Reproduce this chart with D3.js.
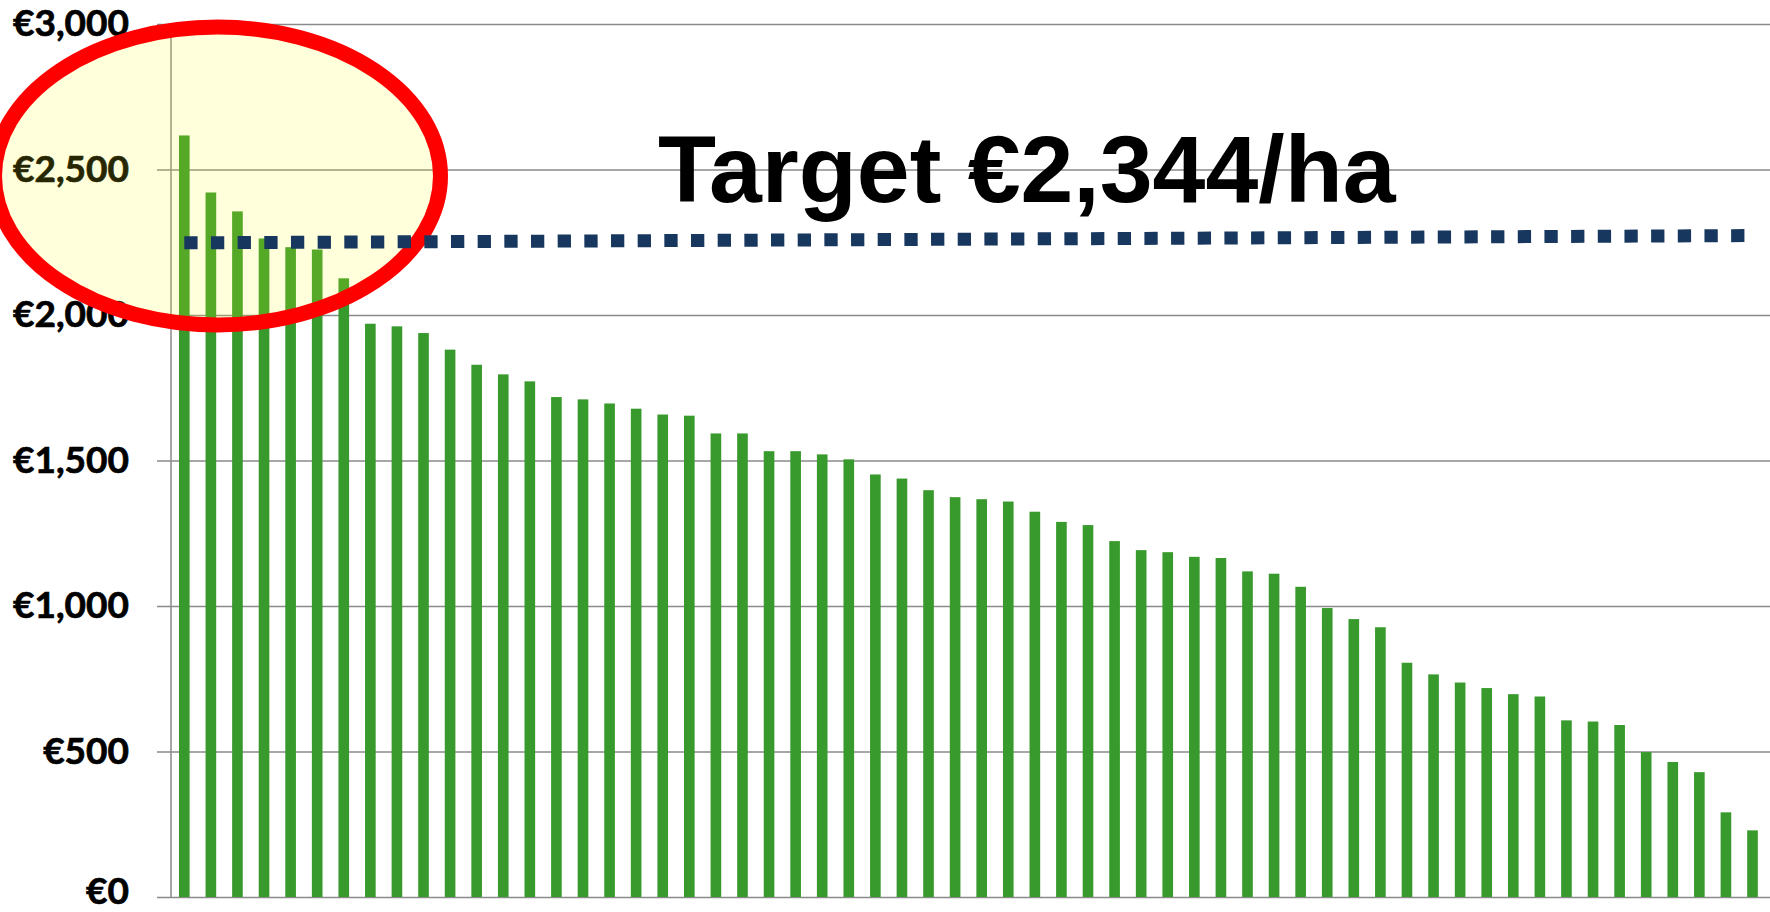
<!DOCTYPE html>
<html>
<head>
<meta charset="utf-8">
<script src="https://cdn.jsdelivr.net/npm/d3@7"></script>
<style>
  html, body { margin: 0; padding: 0; background: #fff; }
  svg { display: block; }
</style>
</head>
<body>
<div id="app"></div>
<script>
const width = 1770
const height = 912

// income per ha for each farm, sorted high to low
const farmValues = [
  2617, 2421, 2356, 2263, 2233, 2225, 2126, 1970, 1961, 1938,
  1881, 1829, 1796, 1772, 1718, 1710, 1696, 1678, 1658, 1654,
  1593, 1593, 1532, 1532, 1521, 1504, 1452, 1438, 1398, 1374,
  1367, 1359, 1324, 1289, 1278, 1223, 1192, 1185, 1169, 1165,
  1119, 1111, 1066, 993, 955, 927, 805, 765, 737, 718,
  697, 689, 607, 603, 591, 498, 464, 429, 291, 229
]
const farms = farmValues.map((v, i) => i + 1)

// dotted target line: first and last farm
const targetFarms = [1, 60]
const targetValues = [2248, 2273]

const yTicks = [0, 500, 1000, 1500, 2000, 2500, 3000]
const titleText = 'Target €2,344/ha'

const axisX = 171
const plotTop = 24
const plotBottom = 897

const x = d3.scaleBand()
  .domain(farms)
  .range([axisX, axisX + 60 * 26.58])
  .paddingInner(0.6)
  .paddingOuter(0.3)

const y = d3.scaleLinear()
  .domain([0, 3000])
  .range([plotBottom, plotTop])

const svg = d3.select('#app').append('svg')
  .attr('width', width)
  .attr('height', height)

// gridlines + tick labels
const yAxis = d3.axisLeft(y)
  .tickValues(yTicks)
  .tickSize(14)
  .tickPadding(28)
  .tickFormat(d => '€' + d3.format(',')(d))

svg.append('g')
  .attr('transform', `translate(${axisX},0)`)
  .call(yAxis)
  .call(g => g.select('.domain').remove())
  .call(g => g.selectAll('.tick line')
    .attr('x1', width - axisX)
    .attr('x2', -14)
    .attr('stroke', '#8a8a8a')
    .attr('stroke-width', 1.5))
  .call(g => g.selectAll('.tick text')
    .attr('fill', '#000')
    .attr('stroke', '#000')
    .attr('stroke-width', 0.7)
    .attr('font-family', 'Lato, "Open Sans", sans-serif')
    .attr('font-weight', 'bold')
    .attr('font-size', 37)
    // keep the bottom label inside the picture
    .attr('dy', d => d === 0 ? '0.18em' : '0.32em'))

svg.append('line')
  .attr('x1', axisX).attr('x2', axisX)
  .attr('y1', y(3000)).attr('y2', y(0))
  .attr('stroke', '#8a8a8a')
  .attr('stroke-width', 1.5)

// bars
svg.append('g')
  .selectAll('rect')
  .data(farmValues)
  .join('rect')
  .attr('x', (d, i) => x(farms[i]))
  .attr('y', d => y(d))
  .attr('width', x.bandwidth())
  .attr('height', d => y(0) - y(d))
  .attr('fill', '#389a2c')

// highlight callout
svg.append('ellipse')
  .attr('cx', 217.5)
  .attr('cy', 176)
  .attr('rx', 223)
  .attr('ry', 149)
  .attr('fill', '#ffff10')
  .attr('fill-opacity', 0.15)
  .attr('stroke', '#ff0000')
  .attr('stroke-width', 15)

// target line
const line = d3.line()
  .x(d => x(d[0]) + x.bandwidth() / 2)
  .y(d => y(d[1]))

svg.append('path')
  .datum(targetFarms.map((f, i) => [f, targetValues[i]]))
  .attr('d', line)
  .attr('fill', 'none')
  .attr('stroke', '#17375e')
  .attr('stroke-width', 13)
  .attr('stroke-dasharray', '13.3 13.37')
  .attr('stroke-linecap', 'butt')

svg.append('text')
  .attr('x', 658)
  .attr('y', 202)
  .attr('font-family', '"Liberation Sans", Arial, sans-serif')
  .attr('font-weight', 'bold')
  .attr('font-size', 95)
  .attr('fill', '#000')
  .text(titleText)
</script>
</body>
</html>
